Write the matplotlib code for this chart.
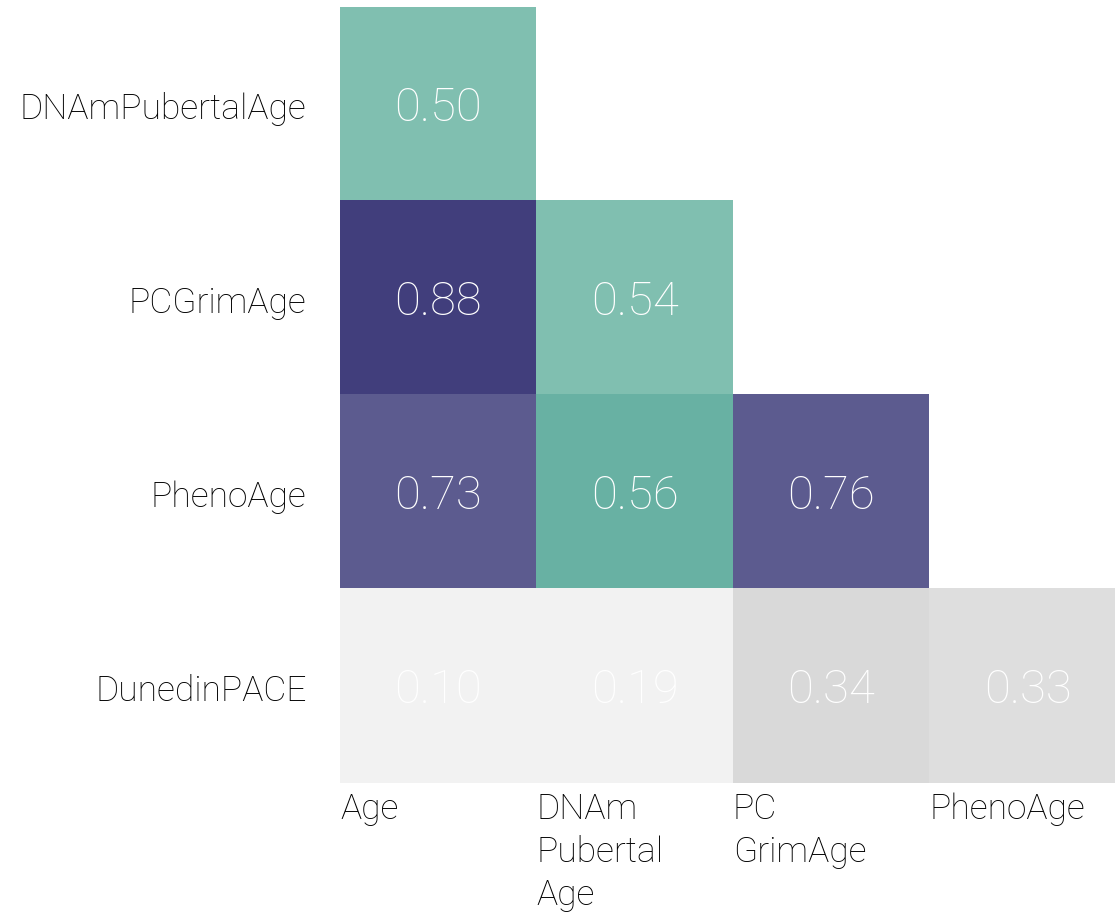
import numpy as np
import matplotlib
matplotlib.use("Agg")
from matplotlib import pyplot as plt
from matplotlib.colors import ListedColormap, BoundaryNorm

# lower triangle of the correlation table
row_labels = ['DNAmPubertalAge', 'PCGrimAge', 'PhenoAge', 'DunedinPACE']
col_labels = ['Age', 'DNAm\nPubertal\nAge', 'PC\nGrimAge', 'PhenoAge']
corr = np.array([
    [0.50, np.nan, np.nan, np.nan],
    [0.88, 0.54, np.nan, np.nan],
    [0.73, 0.56, 0.76, np.nan],
    [0.10, 0.19, 0.34, 0.33],
])

plt.rcParams['font.family'] = ['Roboto', 'DejaVu Sans']

bounds = [0, 0.2, 0.335, 0.4, 0.55, 0.7, 0.8, 1.0]
cmap = ListedColormap(['#F2F2F2', '#DEDEDE', '#D9D9D9', '#80BFB0',
                       '#68B1A3', '#5C5B8F', '#413E7C'])
cmap.set_bad('white')
norm = BoundaryNorm(bounds, cmap.N)

fig = plt.figure(figsize=(11.15, 9.18), dpi=100)
W, H = 1115, 918
ax = fig.add_axes([340 / W, (H - 783) / H, 786 / W, 776 / H])

ax.imshow(np.ma.masked_invalid(corr), cmap=cmap, norm=norm, aspect='auto',
          interpolation='nearest')

for i in range(corr.shape[0]):
    for j in range(corr.shape[1]):
        if not np.isnan(corr[i, j]):
            ax.text(j, i + 0.02, f"{corr[i, j]:.2f}", ha='center', va='center',
                    color='white', fontsize=34, fontweight='light')

ax.set_xticks(np.arange(4) - 0.5)
ax.set_xticklabels(col_labels, ha='left', va='top', fontsize=25.5,
                   linespacing=1.35, fontweight='light')
ax.set_yticks(np.arange(4) + 0.01)
ax.set_yticklabels(row_labels, fontsize=25.5, fontweight='light')
ax.tick_params(length=0)
ax.tick_params(axis='x', pad=7)
ax.tick_params(axis='y', pad=24)
for s in ax.spines.values():
    s.set_visible(False)

fig.savefig('out.png', dpi=100)
